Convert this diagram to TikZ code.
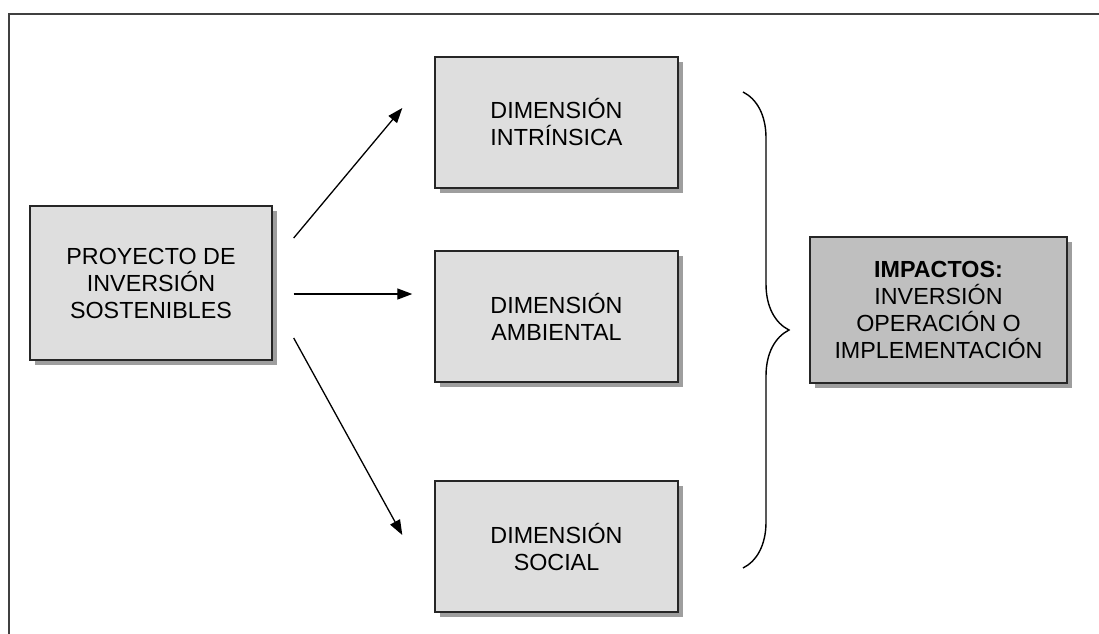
\documentclass[tikz,border=0pt]{standalone}
\usepackage{fontspec}
\setmainfont{Liberation Sans}
\usetikzlibrary{arrows.meta,shadows,decorations.pathreplacing}

\begin{document}
\begin{tikzpicture}[x=1pt,y=-1pt,
  caja/.style={draw=black!85,line width=1.4pt,fill=black!13,align=center,
    font=\fontsize{23.3}{27}\selectfont,
    drop shadow={shadow xshift=5pt,shadow yshift=-5pt,fill=black!38,opacity=1}},
  dim/.style={caja,minimum width=243pt,minimum height=131pt},
  flecha/.style={-{Triangle[length=15pt,width=11pt]},line width=1.3pt}]
  \useasboundingbox (0,0) rectangle (1099,633);
  \draw[line width=2pt,black!75] (9,14) rectangle (1115,650);

  \node[caja,minimum width=242pt,minimum height=154pt] (proy) at (151,283) {PROYECTO DE\\INVERSIÓN\\SOSTENIBLES};
  \node[dim] (intr) at (556.5,122.5) {DIMENSIÓN\\INTRÍNSICA};
  \node[dim] (amb) at (556.5,316.5) {DIMENSIÓN\\AMBIENTAL};
  \node[dim] (soc) at (556.5,546.5) {DIMENSIÓN\\SOCIAL};
  \node[caja,fill=black!25,minimum width=257pt,minimum height=146pt] (imp) at (938.5,310)
    {\textbf{IMPACTOS:}\\INVERSIÓN\\OPERACIÓN O\\IMPLEMENTACIÓN};

  \draw[flecha] ([shift={(21,-45)}]proy.east) -- ([shift={(-32,-14.5)}]intr.west);
  \draw[flecha] ([shift={(21,11)}]proy.east) -- ([shift={(-22,-22.5)}]amb.west);
  \draw[flecha] ([shift={(21,55)}]proy.east) -- ([shift={(-32,-11.5)}]soc.west);

  % llave
  \coordinate (llave1) at (743,92);
  \coordinate (llave2) at (743,568);
  \draw[decorate,decoration={brace,amplitude=46pt,aspect=0.5},line width=1.4pt] (llave1) -- (llave2);
\end{tikzpicture}
\end{document}
